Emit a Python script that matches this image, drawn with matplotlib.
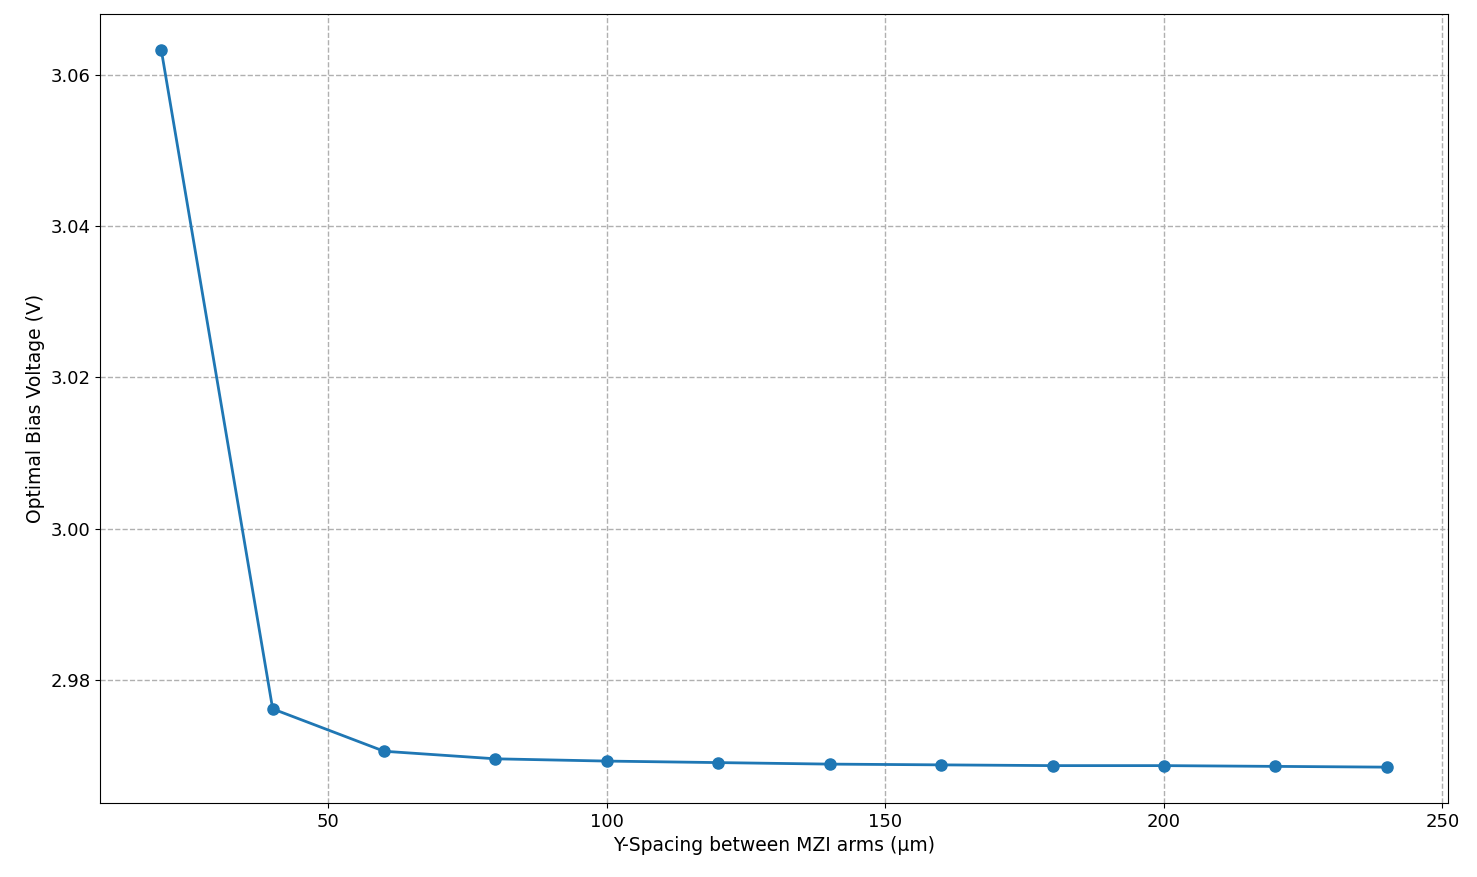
import matplotlib
matplotlib.use("Agg")
import matplotlib.pyplot as plt

spacing = [20, 40, 60, 80, 100, 120, 140, 160, 180, 200, 220, 240]
voltage = [3.0633, 2.9762, 2.9706, 2.9696, 2.9693, 2.9691, 2.9689, 2.9688, 2.9687, 2.9687, 2.9686, 2.9685]

fig = plt.figure(figsize=(14.77, 8.77), dpi=100)
ax = fig.add_axes([100/1477, 1-803/877, 1348/1477, 789/877])
ax.plot(spacing, voltage, marker='o', color='#1f77b4', linewidth=2, markersize=8)
ax.grid(True, linestyle='--', color='#b0b0b0', linewidth=1)
ax.set_xlabel("Y-Spacing between MZI arms (µm)", fontsize=13.5)
ax.set_ylabel("Optimal Bias Voltage (V)", fontsize=13.5)
ax.tick_params(labelsize=13)
ax.set_yticks([2.98, 3.00, 3.02, 3.04, 3.06])
fig.savefig("out.png", dpi=100)
